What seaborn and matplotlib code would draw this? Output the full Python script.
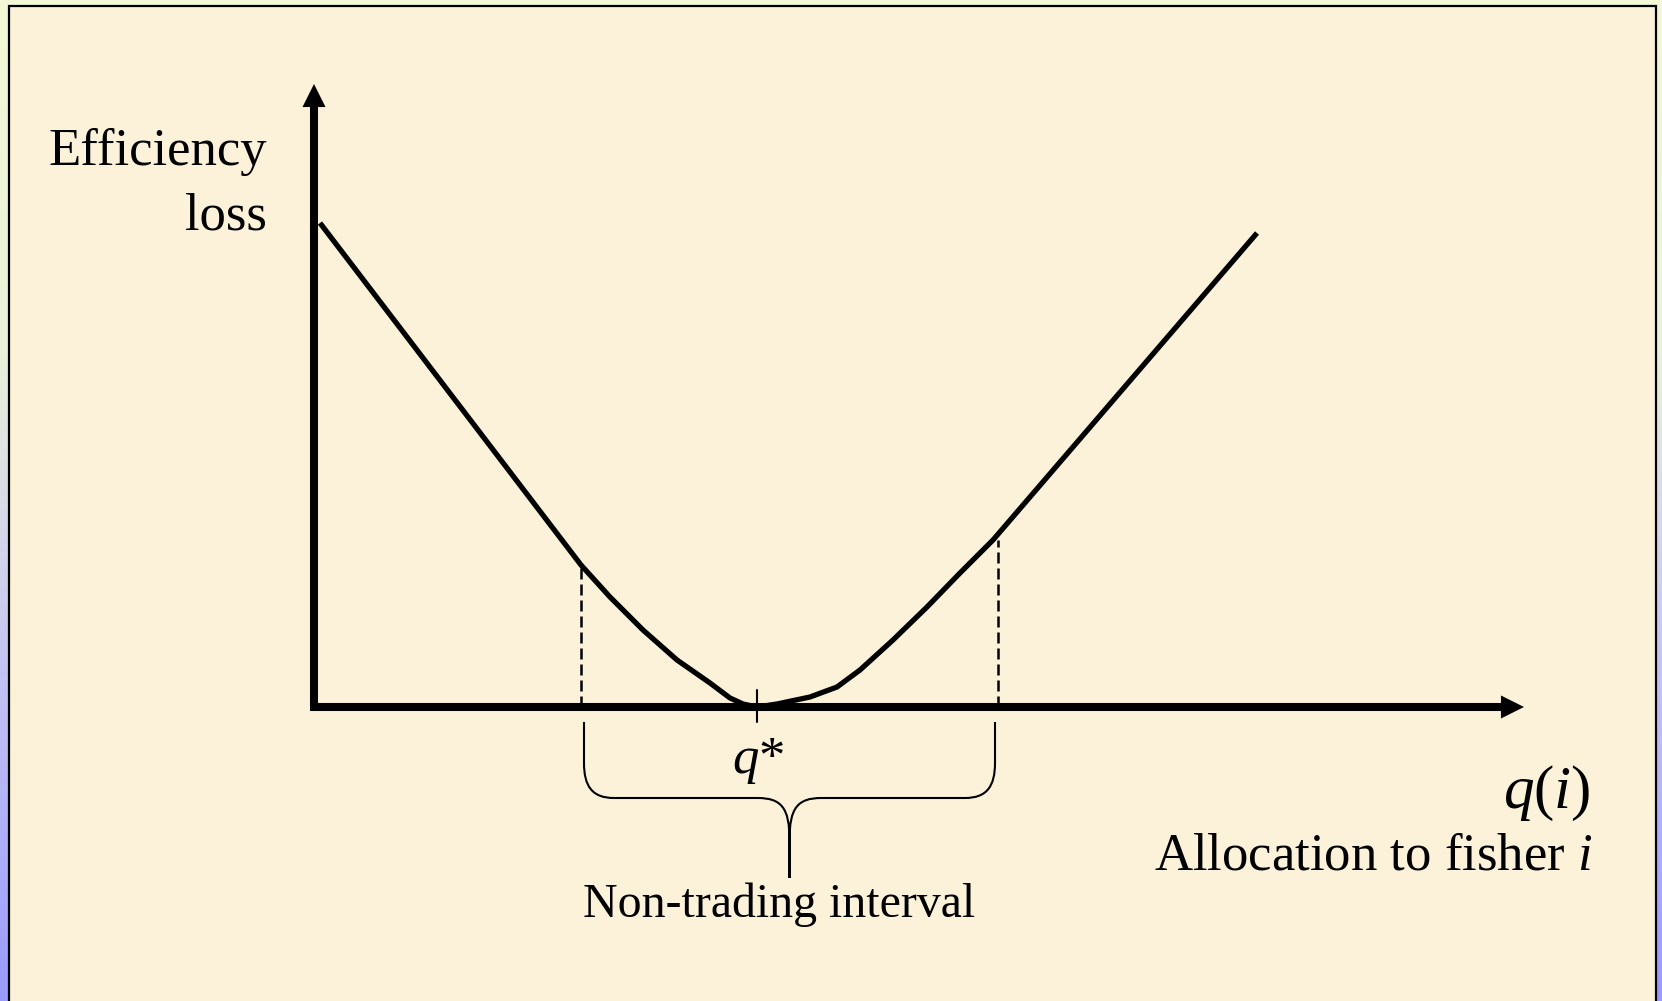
import numpy as np
import pandas as pd
import seaborn as sns
import matplotlib.pyplot as plt
from matplotlib.colors import LinearSegmentedColormap
from matplotlib.patches import Rectangle, PathPatch
from matplotlib.path import Path

# Efficiency loss curve (allocation q, loss)
q_vals = [0.06, 2.67, 2.96, 3.29, 3.63, 3.96, 4.16, 4.29, 4.43,
          4.63, 4.96, 5.23, 5.46, 5.79, 6.13, 6.46, 6.79, 9.43]
loss_vals = [4.84, 1.42, 1.10, 0.77, 0.47, 0.24, 0.09, 0.03, 0.00,
             0.03, 0.10, 0.20, 0.37, 0.67, 1.00, 1.34, 1.67, 4.74]

# Non-trading interval bounds and the loss there
nt_bounds = [2.67, 6.84]
nt_loss = [1.40, 1.67]
q_star = 4.43

# axis extents
x_axis_end = 12.10
y_axis_end = 6.23

sns.set_theme(style="white")
plt.rcParams['font.family'] = ['Liberation Serif', 'DejaVu Serif']
plt.rcParams['text.color'] = 'black'
plt.rcParams['mathtext.fontset'] = 'custom'
plt.rcParams['mathtext.rm'] = 'Liberation Serif'
plt.rcParams['mathtext.it'] = 'Liberation Serif:italic'

W, H = 1662, 1001
fig = plt.figure(figsize=(W / 100, H / 100), dpi=100)

# slide background: gradient strip + cream framed panel
bg = fig.add_axes([0, 0, 1, 1], zorder=-1)
cmap = LinearSegmentedColormap.from_list(
    'edge', [(0, '#F3F9D6'), (0.35, '#E9F2DA'), (0.65, '#C6C6F2'), (1, '#9A9AFF')])
bg.imshow(np.linspace(0, 1, 256).reshape(-1, 1), cmap=cmap, aspect='auto',
          extent=[0, W, H, 0])
bg.add_patch(Rectangle((9, 6), 1647, 1010, facecolor='#FCF2D9',
                       edgecolor='black', lw=1.6))
bg.set_xlim(0, W)
bg.set_ylim(H, 0)
bg.axis('off')

ax = fig.add_axes([0, 0, 1, 1])
ax.set_xlim(-3.14, 13.48)
ax.set_ylim(-2.94, 7.07)
ax.axis('off')
ax.patch.set_visible(False)

# axes with arrow heads
arrow = dict(arrowstyle='simple,head_length=1.66,head_width=1.66,tail_width=0.58',
             mutation_scale=10, shrinkA=0, shrinkB=0, lw=0, fc='black', ec='black')
ax.annotate('', xy=(x_axis_end, 0), xytext=(-0.04, 0), arrowprops=arrow)
ax.annotate('', xy=(0, y_axis_end), xytext=(0, -0.04), arrowprops=arrow)

# loss curve
df = pd.DataFrame({'q': q_vals, 'loss': loss_vals})
sns.lineplot(data=df, x='q', y='loss', sort=False, estimator=None, color='black',
             lw=3.8, ax=ax, solid_joinstyle='round', solid_capstyle='butt')

# dashed guides at the interval bounds
for xb, yb in zip(nt_bounds, nt_loss):
    ax.plot([xb, xb], [0, yb], color='black', lw=1.8, linestyle=(0, (4.4, 2.0)))

# q* tick
ax.plot([q_star, q_star], [0.17, -0.15], color='black', lw=1.5)

# curly brace under the interval
x0, x1 = nt_bounds[0] + 0.03, nt_bounds[1] - 0.03
xm = (x0 + x1) / 2
yt, yv, yh, yp = -0.15, -0.56, -0.91, -1.71
verts = [(x0, yt), (x0, yv),
         (x0, yh + 0.12), (x0 + 0.08, yh), (x0 + 0.30, yh),
         (xm - 0.32, yh),
         (xm - 0.08, yh), (xm, yh - 0.10), (xm, yh - 0.42),
         (xm, yp), (xm, yh - 0.42),
         (xm, yh - 0.10), (xm + 0.08, yh), (xm + 0.32, yh),
         (x1 - 0.30, yh),
         (x1 - 0.08, yh), (x1, yh + 0.12), (x1, yv),
         (x1, yt)]
codes = [Path.MOVETO, Path.LINETO,
         Path.CURVE4, Path.CURVE4, Path.CURVE4,
         Path.LINETO,
         Path.CURVE4, Path.CURVE4, Path.CURVE4,
         Path.LINETO, Path.LINETO,
         Path.CURVE4, Path.CURVE4, Path.CURVE4,
         Path.LINETO,
         Path.CURVE4, Path.CURVE4, Path.CURVE4,
         Path.LINETO]
ax.add_patch(PathPatch(Path(verts, codes), fill=False, lw=1.5, ec='black'))

# labels
ax.text(-0.47, 5.42, 'Efficiency', ha='right', va='baseline', fontsize=38)
ax.text(-0.47, 4.78, 'loss', ha='right', va='baseline', fontsize=38)
ax.text(4.44, -0.66, r'$q$*', ha='center', va='baseline', fontsize=38)
ax.text(4.655, -2.10, 'Non-trading interval', ha='center', va='baseline', fontsize=34.5)
ax.text(12.77, -1.01, r'$q(i)$', ha='right', va='baseline', fontsize=44)
ax.text(12.78, -1.63, r'Allocation to fisher $i$', ha='right', va='baseline', fontsize=38)

fig.savefig('out.png', dpi=100)
